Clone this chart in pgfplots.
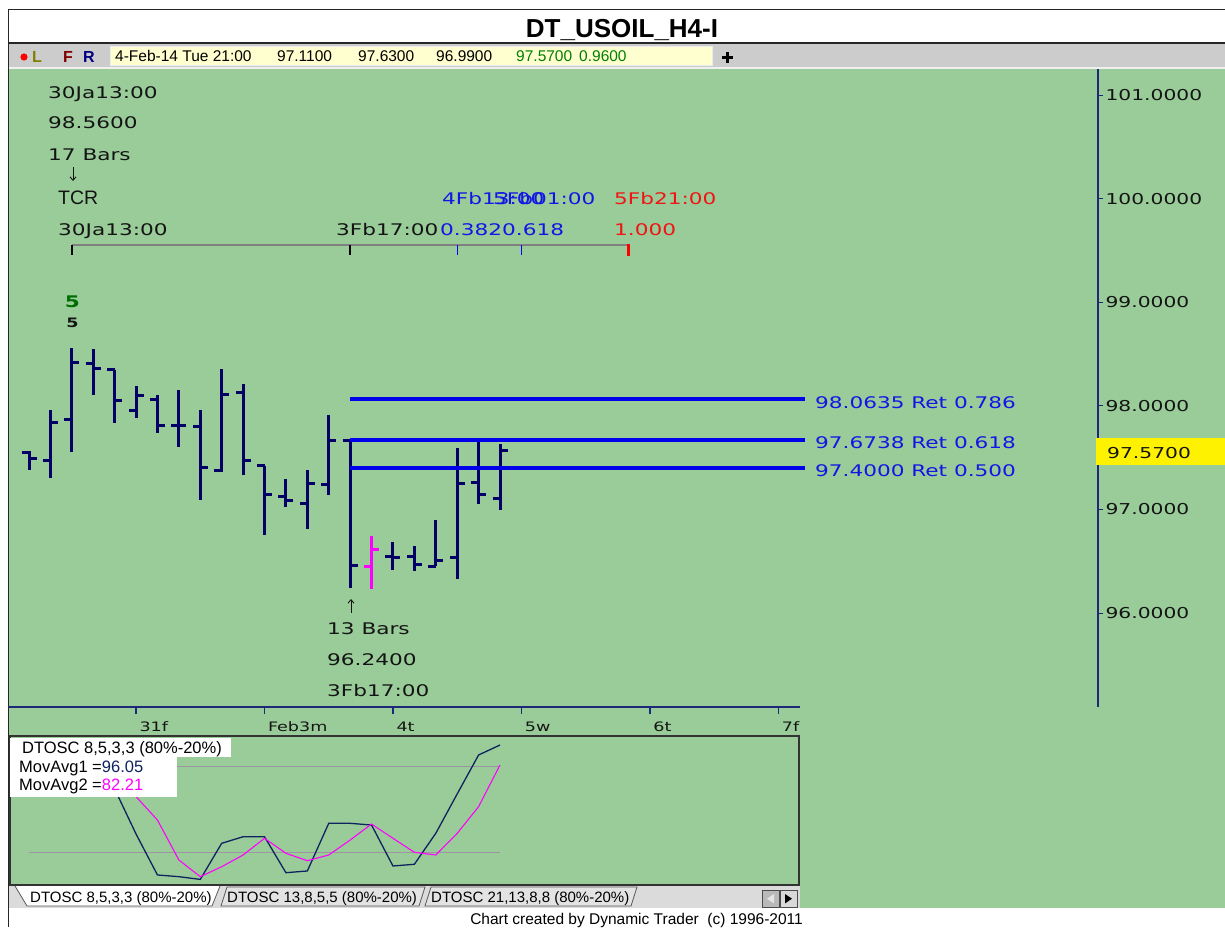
\documentclass[border=0pt]{standalone}
\usepackage{pgfplots}
\pgfplotsset{compat=1.18}
\usepackage{pgfplotstable}
\usetikzlibrary{arrows.meta}
\usepackage{fontspec}
\setmainfont{Liberation Sans}
\newfontfamily\comic[FakeStretch=1.35]{DejaVu Sans}
\newcommand{\cf}[1]{\comic\fontsize{#1}{#1}\selectfont}
\newcommand{\tf}[1]{\fontsize{#1}{#1}\selectfont}

\definecolor{bggreen}{RGB}{153,204,153}
\definecolor{barnavy}{RGB}{0,0,102}
\definecolor{fibblue}{RGB}{0,0,235}
\definecolor{txtblue}{RGB}{20,20,230}
\definecolor{txtred}{RGB}{240,20,20}
\definecolor{oscnavy}{RGB}{15,35,95}
\definecolor{axnavy}{RGB}{30,40,120}
\definecolor{tbgray}{RGB}{204,204,204}
\definecolor{fieldyel}{RGB}{255,255,208}
\definecolor{ink}{RGB}{20,20,20}
\definecolor{osgray}{RGB}{155,150,160}
\definecolor{fivegreen}{RGB}{0,110,0}
\definecolor{pmag}{RGB}{255,0,255}

\pgfdeclareplotmark{ohlcopen}{\pgfpathmoveto{\pgfqpoint{-7.5pt}{0pt}}\pgfpathlineto{\pgfqpoint{0pt}{0pt}}\pgfusepathqstroke}
\pgfdeclareplotmark{ohlcclose}{\pgfpathmoveto{\pgfqpoint{0pt}{0pt}}\pgfpathlineto{\pgfqpoint{7.5pt}{0pt}}\pgfusepathqstroke}

\pgfplotstableread{
i o h l c
1 97.55 97.56 97.38 97.49
2 97.47 97.96 97.30 97.84
3 97.87 98.56 97.55 98.42
4 98.41 98.55 98.10 98.36
5 98.35 98.35 97.83 98.05
6 97.95 98.19 97.88 98.10
7 98.06 98.10 97.74 97.81
8 97.81 98.15 97.60 97.81
9 97.80 97.96 97.09 97.40
10 97.38 98.36 97.36 98.11
11 98.13 98.21 97.33 97.47
12 97.42 97.42 96.75 97.14
13 97.12 97.29 97.02 97.09
14 97.06 97.38 96.81 97.25
15 97.24 97.91 97.14 97.67
16 97.67 97.67 96.24 96.46
18 96.55 96.69 96.42 96.54
19 96.55 96.65 96.41 96.47
20 96.45 96.90 96.45 96.51
21 96.54 97.59 96.33 97.25
22 97.26 97.69 97.05 97.14
23 97.11 97.63 96.99 97.57
}\ohlc

\pgfplotstableread{
i o h l c
17 96.45 96.74 96.23 96.61
}\ohlcm

\pgfplotstableread{
i v1 v2
4 95 90
5 64.4 78
6 32.8 59
7 4.1 42.6
8 2.9 14.6
9 1.0 2.9
10 26.3 9.9
11 30.9 18.1
12 30.9 29.8
13 5.7 19.3
14 6.9 14.1
15 40.3 18.1
16 40.3 28.6
17 39.1 39.8
18 10.4 29.8
19 11.6 20.0
20 33.3 18.1
21 60.9 33.3
22 88.2 52.0
23 95.2 81.2
}\osc

\begin{document}
\begin{tikzpicture}[x=1pt,y=1pt]
\path[fill=white, use as bounding box] (0pt,0pt) rectangle (1225pt,-927pt);
% green area
\fill[bggreen] (9,-68) rectangle (1225,-908);
% toolbar
\fill[tbgray] (9,-44) rectangle (1225,-66.5);
\fill[white!88!gray] (9,-66.5) rectangle (1225,-68.5);
\filldraw[fill=fieldyel, draw=white!85!gray] (110,-46.5) rectangle (712,-65);
% borders
\draw[black!85, line width=1.5] (8,-9.5) -- (1225,-9.5);
\draw[black!85, line width=1.5] (8,-43) -- (1225,-43);
\draw[black!85, line width=1.5] (8.5,-9) -- (8.5,-927);

% title
\node[anchor=base, inner sep=0] at (622,-37) {\tf{26}\bfseries DT\_USOIL\_H4-I};
% toolbar content
\fill[red] (24,-57) circle (3.6);
\node[anchor=base west, inner sep=0, text={rgb,255:red,128;green,128;blue,0}] at (32,-62) {\tf{16}\bfseries L};
\node[anchor=base west, inner sep=0, text={rgb,255:red,128;green,0;blue,0}] at (63,-62) {\tf{16}\bfseries F};
\node[anchor=base west, inner sep=0, text={rgb,255:red,0;green,0;blue,128}] at (83,-62) {\tf{16}\bfseries R};
\node[anchor=base west, inner sep=0] at (115,-61.5) {\tf{15.5}4-Feb-14 Tue 21:00};
\node[anchor=base west, inner sep=0] at (277,-61.5) {\tf{15.5}97.1100};
\node[anchor=base west, inner sep=0] at (358,-61.5) {\tf{15.5}97.6300};
\node[anchor=base west, inner sep=0] at (436,-61.5) {\tf{15.5}96.9900};
\node[anchor=base west, inner sep=0, text={rgb,255:red,0;green,128;blue,0}] at (516,-61.5) {\tf{15.5}97.5700};
\node[anchor=base west, inner sep=0, text={rgb,255:red,0;green,128;blue,0}] at (579,-61.5) {\tf{15.5}0.9600};
\draw[black, line width=3] (722,-57) -- (733,-57) (727.5,-51.5) -- (727.5,-62.5);

% oscillator panel
\begin{scope}[shift={(10pt,-885pt)}]
\begin{axis}[at={(0pt,0pt)}, anchor=south west, width=789pt, height=149pt, scale only axis,
  xmin=0.1126, xmax=36.965, ymin=-2.94, ymax=101.5, ticks=none,
  axis line style={draw=black!80, line width=1.3}]
\addplot[osgray, line width=1] coordinates {(1,80) (23,80)};
\addplot[osgray, line width=1] coordinates {(1,20) (23,20)};
\addplot[oscnavy, line width=1.3] table[x=i, y=v1] {\osc};
\addplot[pmag, line width=1.1] table[x=i, y=v2] {\osc};
\end{axis}
\end{scope}

% date strip
\begin{scope}[shift={(8pt,-707pt)}]
\begin{axis}[at={(0pt,0pt)}, anchor=south west, width=792pt, height=1pt, scale only axis,
  xmin=0.0192, xmax=37.01, ymin=0, ymax=1, hide y axis, axis x line*=bottom,
  axis line style={axnavy, line width=1.5, -},
  xtick={6,12,18,24,30,36}, xticklabels={31f,Feb3m,4t,5w,6t,7f},
  tick align=outside, major tick length=7pt, tick style={axnavy, line width=1.2},
  xticklabel style={anchor=north west, font=\cf{13}, text=ink, yshift=-4, xshift=0}]
\addplot[draw=none] coordinates {(1,0.5)};
\end{axis}
\end{scope}

% main price panel
\begin{scope}[shift={(8pt,-707pt)}]
\begin{axis}[at={(0pt,0pt)}, anchor=south west, width=1090pt, height=638pt, scale only axis,
  xmin=0.0192, xmax=50.93, ymin=95.0927, ymax=101.251, clip=false,
  axis x line=none, axis y line*=right, axis line style={axnavy, line width=1.5, -},
  ytick={96,97,98,99,100,101}, tick align=outside, major tick length=5pt,
  tick style={axnavy, line width=1},
  /pgf/number format/assume math mode=true,
  yticklabel style={font=\cf{15}, text=ink, anchor=west, xshift=-1,
    /pgf/number format/fixed, /pgf/number format/fixed zerofill, /pgf/number format/precision=4}]
\addplot[only marks, mark=ohlcopen, barnavy, mark options={line width=3pt, barnavy},
  error bars/.cd, y dir=both, y explicit, error mark=none,
  error bar style={line width=3pt, barnavy}]
  table[x=i, y=o, y error plus expr=\thisrow{h}-\thisrow{o}, y error minus expr=\thisrow{o}-\thisrow{l}] {\ohlc};
\addplot[only marks, mark=ohlcclose, barnavy, mark options={line width=3pt, barnavy}]
  table[x=i, y=c] {\ohlc};
\addplot[only marks, mark=ohlcopen, pmag, mark options={line width=3pt, pmag},
  error bars/.cd, y dir=both, y explicit, error mark=none,
  error bar style={line width=3pt, pmag}]
  table[x=i, y=o, y error plus expr=\thisrow{h}-\thisrow{o}, y error minus expr=\thisrow{o}-\thisrow{l}] {\ohlcm};
\addplot[only marks, mark=ohlcclose, pmag, mark options={line width=3pt, pmag}]
  table[x=i, y=c] {\ohlcm};
% retracement lines
\addplot[fibblue, line width=4pt] coordinates {(16,98.0635) (37.25,98.0635)};
\addplot[fibblue, line width=4pt] coordinates {(16,97.6738) (37.25,97.6738)};
\addplot[fibblue, line width=4pt] coordinates {(16,97.4000) (37.25,97.4000)};
% time ruler
\draw[gray, line width=1.5] (axis cs:3,99.5521) -- (axis cs:29,99.5521);
\draw[black, line width=1.5] (axis cs:3,99.5521) -- (axis cs:3,99.4556);
\draw[black, line width=1.5] (axis cs:16,99.5521) -- (axis cs:16,99.4556);
\draw[blue, line width=1.3] (axis cs:21,99.5521) -- (axis cs:21,99.4556);
\draw[blue, line width=1.3] (axis cs:24,99.5521) -- (axis cs:24,99.4556);
\draw[red, line width=3.5] (axis cs:29,99.5617) -- (axis cs:29,99.4460);
\end{axis}
\end{scope}

% current price box
\fill[yellow] (1096,-438) rectangle (1225,-465);
\node[anchor=base west, inner sep=0, text=ink] at (1107,-458) {\cf{15}97.5700};

% retracement labels
\node[anchor=base west, inner sep=0, text=txtblue] at (815,-408) {\cf{16}98.0635 Ret 0.786};
\node[anchor=base west, inner sep=0, text=txtblue] at (815,-448) {\cf{16}97.6738 Ret 0.618};
\node[anchor=base west, inner sep=0, text=txtblue] at (815,-476.5) {\cf{16}97.4000 Ret 0.500};

% swing annotations
\node[anchor=base west, inner sep=0, text=ink] at (48,-98.5) {\cf{16}30Ja13:00};
\node[anchor=base west, inner sep=0, text=ink] at (48,-128.5) {\cf{16}98.5600};
\node[anchor=base west, inner sep=0, text=ink] at (48,-160) {\cf{16}17 Bars};
\draw[ink, line width=0.9, -{Straight Barb[length=3.5pt, width=6pt]}] (73,-167) -- (73,-181);
\node[anchor=base west, inner sep=0, text=ink] at (58,-204) {\tf{19.5}TCR};
\node[anchor=base west, inner sep=0, text=ink] at (58,-235) {\cf{16}30Ja13:00};
\node[anchor=base west, inner sep=0, text=ink] at (336,-235) {\cf{16}3Fb17:00};
\node[anchor=base west, inner sep=0, text=txtblue] at (440,-235) {\cf{16}0.382};
\node[anchor=base west, inner sep=0, text=txtblue] at (502,-235) {\cf{16}0.618};
\node[anchor=base west, inner sep=0, text=txtred] at (614,-235) {\cf{16}1.000};
\node[anchor=base west, inner sep=0, text=txtblue] at (442,-204) {\cf{16}4Fb13:00};
\node[anchor=base west, inner sep=0, text=txtblue] at (493,-204) {\cf{16}5Fb01:00};
\node[anchor=base west, inner sep=0, text=txtred] at (614,-204) {\cf{16}5Fb21:00};
\node[anchor=base, inner sep=0, text=fivegreen] at (72.5,-307) {\cf{16}\bfseries 5};
\node[anchor=base, inner sep=0, text=ink] at (72.5,-327) {\cf{13}\bfseries 5};
\draw[ink, line width=0.9, -{Straight Barb[length=3.5pt, width=6pt]}] (351,-613) -- (351,-599);
\node[anchor=base west, inner sep=0, text=ink] at (327,-634) {\cf{16}13 Bars};
\node[anchor=base west, inner sep=0, text=ink] at (327,-665) {\cf{16}96.2400};
\node[anchor=base west, inner sep=0, text=ink] at (327,-696) {\cf{16}3Fb17:00};

% oscillator legend
\fill[white] (10,-737.5) rectangle (231,-757);
\fill[white] (10,-757) rectangle (177,-796.5);
\node[anchor=base west, inner sep=0] at (22,-753) {\tf{16.5}DTOSC 8,5,3,3 (80\%-20\%)};
\node[anchor=base west, inner sep=0] at (19,-772) {\tf{16.5}MovAvg1 =\textcolor{oscnavy}{96.05}};
\node[anchor=base west, inner sep=0] at (19,-790.5) {\tf{16.5}MovAvg2 =\textcolor{pmag}{82.21}};

% tabs row
\fill[gray!28] (9,-886) rectangle (800,-907.5);
\filldraw[fill=gray!22, draw=gray!70!black, line width=0.8] (221,-906) -- (227,-887) -- (425,-887) -- (419,-906) -- cycle;
\filldraw[fill=gray!22, draw=gray!70!black, line width=0.8] (425,-906) -- (431,-887) -- (637,-887) -- (631,-906) -- cycle;
\filldraw[fill=white, draw=gray!70!black, line width=0.8] (15,-886) -- (27,-906) -- (212,-906) -- (220,-886);
\node[anchor=base west, inner sep=0] at (30,-902.5) {\tf{15}DTOSC 8,5,3,3 (80\%-20\%)};
\node[anchor=base west, inner sep=0] at (227,-902.5) {\tf{15}DTOSC 13,8,5,5 (80\%-20\%)};
\node[anchor=base west, inner sep=0] at (431,-902.5) {\tf{15}DTOSC 21,13,8,8 (80\%-20\%)};
\filldraw[fill=gray!55, draw=black!70, line width=0.8] (762,-890.5) rectangle (779,-907);
\filldraw[fill=gray!30, draw=black!70, line width=0.8] (780,-890.5) rectangle (797,-907);
\fill[gray!20] (774,-894) -- (767,-898.7) -- (774,-903.4) -- cycle;
\fill[black] (785,-894) -- (792,-898.7) -- (785,-903.4) -- cycle;
\draw[black!80, line width=1.3] (10,-885.5) -- (799,-885.5);

% footer
\node[anchor=base east, inner sep=0] at (803,-924) {\tf{15.5}Chart created by Dynamic Trader\ \ (c) 1996-2011};
\end{tikzpicture}
\end{document}
